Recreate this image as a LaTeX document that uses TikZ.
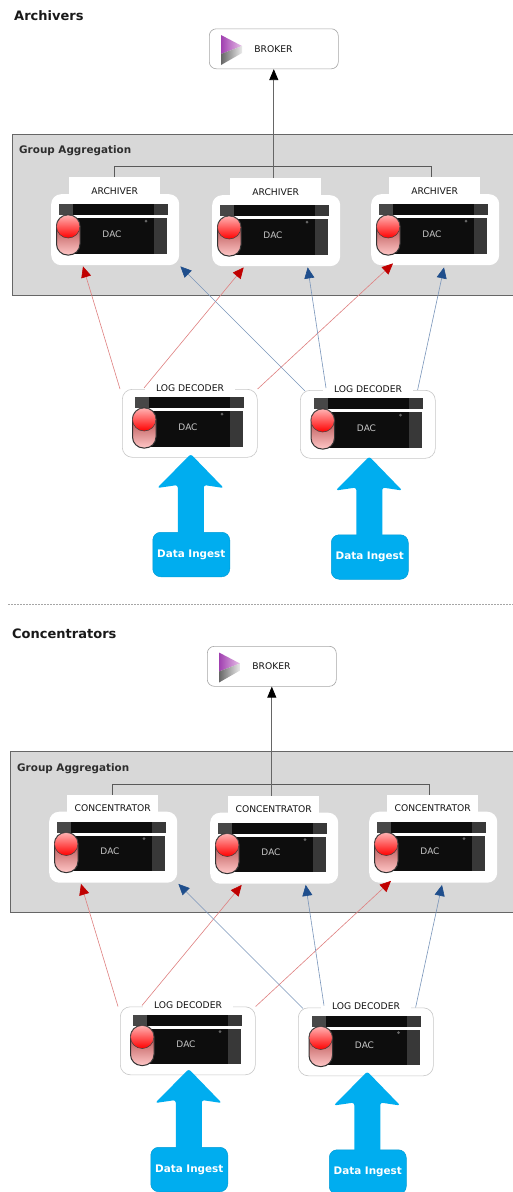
\documentclass[tikz,border=0pt]{standalone}
\usepackage{fontspec}
\setmainfont{DejaVu Sans}
\usetikzlibrary{arrows.meta,calc}
\definecolor{ingestc}{HTML}{00ADEF}
\definecolor{groupc}{HTML}{D8D8D8}
\definecolor{hdred}{HTML}{C00000}
\definecolor{hdblue}{HTML}{1F4E8C}
\definecolor{logopurple}{HTML}{A040B0}
\definecolor{logopale}{HTML}{E8C0E8}
\tikzset{
 srvbox/.style={rectangle,rounded corners=10pt,fill=white,inner sep=0pt,anchor=north west,minimum width=#1,minimum height=71pt},
 ldbox/.style={rectangle,rounded corners=10pt,fill=white,draw=black!22,line width=0.6pt,inner sep=0pt,anchor=north west,minimum width=135pt,minimum height=68pt},
 brokerbox/.style={rectangle,rounded corners=7pt,fill=white,draw=black!35,line width=0.6pt,inner sep=0pt,anchor=north west,minimum width=129pt,minimum height=40pt},
 tabbox/.style={rectangle,fill=white,inner sep=0pt,minimum width=91pt,minimum height=18pt,anchor=north west},
 ldtab/.style={rectangle,fill=white,inner sep=0pt,minimum width=90pt,minimum height=10pt},
 lbl/.style={inner sep=0pt,text=black!92,font=\fontsize{9.2}{10}\selectfont},
 daclbl/.style={inner sep=0pt,text=black!22,font=\fontsize{9}{10}\selectfont},
 ingest/.style={rectangle,rounded corners=8pt,fill=ingestc,draw=ingestc!90!black,line width=0.5pt,inner sep=0pt,minimum width=77pt,minimum height=44.5pt,anchor=north west,text=white,font=\fontsize{10.4}{12}\selectfont\bfseries},
 titlelbl/.style={inner sep=0pt,anchor=west,font=\fontsize{13}{15}\selectfont\bfseries,text=black!90},
 grouplbl/.style={inner sep=0pt,anchor=west,font=\fontsize{10.4}{12}\selectfont\bfseries,text=black!82},
 redline/.style={draw=hdred!50!white,line width=0.6pt,-{Triangle[length=11pt,width=10pt,color=hdred]}},
 blueline/.style={draw=hdblue!60!white,line width=0.6pt,-{Triangle[length=11pt,width=10pt,color=hdblue]}},
 hubline/.style={draw=black!65,line width=0.8pt},
 brokerarrow/.style={draw=black!60,line width=0.8pt,-{Triangle[length=11pt,width=9pt,color=black]}}
}
% server picture: #1 = left of the top bar, #2 = top of the top bar
\newcommand{\srvpic}[2]{%
 \begin{scope}[shift={(#1,#2)}]
  \fill[black!95] (0,0) rectangle (109,11);
  \fill[black!72] (0,0) rectangle (14,11);
  \fill[black!78] (95,0) rectangle (109,11);
  \fill[black!95] (13,14) rectangle (108,49.5);
  \fill[black!78] (95,14) rectangle (108,49.5);
  \fill[black!60] (87,17) circle (1.5);
  \node[daclbl] at (53,30) {DAC};
  \draw[black!80,line width=1pt,top color=red!55!black!85!white,bottom color=red!22!white,rounded corners=11pt] (-2.5,11) rectangle (21,51);
  \draw[black!75,line width=0.5pt,top color=red!30!white,bottom color=red] (9.2,22.5) ellipse (11.7 and 11.5);
 \end{scope}}
% logo: #1,#2 = top-left corner
\newcommand{\logopic}[2]{%
 \begin{scope}[shift={(#1,#2)}]
  \shade[left color=logopurple,right color=logopale] (0,0) -- (21,11) -- (0,19) -- cycle;
  \shade[left color=black!60,right color=black!8] (0,19) -- (21,11) -- (21,18) -- (0,30) -- cycle;
 \end{scope}}
% #1 prefix, #2 x shift, #3 y shift, #4 title, #5 server label, #6 ingest extra y shift
\newcommand{\sectionpic}[6]{%
 \begin{scope}[shift={(#2,#3)}]
  \node[titlelbl] (#1title) at (14,16) {#4};
  \node[brokerbox] (#1b) at (209,28.5) {};
  \logopic{221}{35}
  \node[lbl] (#1btxt) at (273.5,49) {BROKER};
  \fill[groupc] (12,134) rectangle (515,295);
  \draw[black!60,line width=1pt] (515,134) -- (12,134) -- (12,295) -- (515,295);
  \node[grouplbl] (#1g) at (19,151) {Group Aggregation};
  \node[srvbox=128pt] (#1a1) at (51,194) {};
  \node[srvbox=128pt] (#1a2) at (212,195) {};
  \node[srvbox=128pt] (#1a3) at (371,194) {};
  \node[tabbox] (#1t1) at (69,177) {};
  \node[tabbox] (#1t2) at (230,178) {};
  \node[tabbox] (#1t3) at (389,177) {};
  \node[lbl] (#1l1) at ($(#1t1.center)+(0,4.5)$) {#5};
  \node[lbl] (#1l2) at ($(#1t2.center)+(0,4.5)$) {#5};
  \node[lbl] (#1l3) at ($(#1t3.center)+(0,4.5)$) {#5};
  \srvpic{59}{204}
  \srvpic{220}{205}
  \srvpic{379}{204}
  \coordinate (#1h) at (273.5,166.5);
  \draw[hubline] (#1t1.north) |- (#1h) -| ($(#1t3.north)+(-3,0)$);
  \draw[brokerarrow] (#1t2.north -| #1b.south) -- (#1b.south);
  \node[ldbox] (#1d1) at (122,389) {};
  \node[ldbox] (#1d2) at (300,390) {};
  \node[ldtab] (#1dt1) at (190,388) {};
  \node[ldtab] (#1dt2) at (368,389) {};
  \node[lbl] (#1dl1) at (#1dt1) {LOG DECODER};
  \node[lbl] (#1dl2) at (#1dt2) {LOG DECODER};
  \srvpic{135}{397}
  \srvpic{313.5}{398}
  \draw[redline] ($(#1d1.north west)+(-2,0)$) -- ($(#1a1.south west)+(32,1)$);
  \draw[redline] ($(#1d1.north west)+(22,-1)$) -- ($(#1a2.south west)+(31.7,1)$);
  \draw[redline] (#1d1.north east) -- ($(#1a3.south west)+(22,-2)$);
  \draw[blueline] ($(#1d2.north west)+(5,1)$) -- ($(#1a1.south east)+(1,1)$);
  \draw[blueline] ($(#1d2.north west)+(26,-2)$) -- ($(#1a2.south west)+(95.7,1)$);
  \draw[blueline] ($(#1d2.north east)+(-18,0)$) -- ($(#1a3.south west)+(73,2)$);
  \begin{scope}[shift={(0,#6)}]
   \node[ingest] (#1i1) at (152.5,532) {Data Ingest};
   \node[ingest] (#1i2) at (331,534.5) {Data Ingest};
   \fill[ingestc,rounded corners=2.5pt] ($(#1i1.north)+(-13.5,3)$) -- ++(0,-50) -- ++(-20.5,3) -- ++(33.5,-34) -- ++(33,34) -- ++(-20,-3) -- ++(0,50) -- cycle;
   \fill[ingestc,rounded corners=2.5pt] ($(#1i2.north)+(-13.5,3)$) -- ++(0,-50) -- ++(-20.5,3) -- ++(33.5,-34) -- ++(33,34) -- ++(-20,-3) -- ++(0,50) -- cycle;
  \end{scope}
 \end{scope}}
\begin{document}
\begin{tikzpicture}[x=1pt,y=-1pt]
 \useasboundingbox (0,0) rectangle (513,1192);
 \fill[white] (0,0) rectangle (513,1192);
 \sectionpic{p}{0}{0}{Archivers}{ARCHIVER}{0}
 \coordinate (divl) at (8,604);
 \coordinate (divr) at (513,604);
 \draw[black!35,line width=0.7pt,dash pattern=on 1.5pt off 1.5pt] (divl) -- (divr);
 \sectionpic{q}{-2}{617.5}{Concentrators}{CONCENTRATOR}{-2.5}
\end{tikzpicture}
\end{document}
